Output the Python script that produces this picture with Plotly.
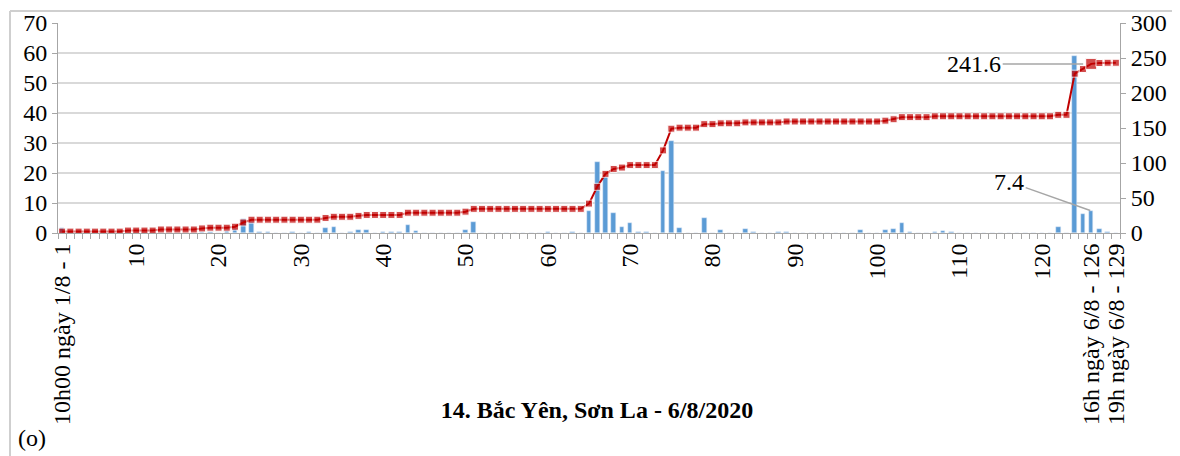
import plotly.graph_objects as go

# ---- data ----
categories = list(range(1, 130))

rain_values = {  # hourly rainfall (mm), left axis; others are 0
    1: 1.8, 18: 0.3, 19: 0.3, 21: 0.7, 22: 1.2, 23: 4.6, 24: 3.7, 25: 0.2, 26: 0.2,
    29: 0.3, 31: 0.2, 33: 1.6, 34: 2.1, 36: 0.3, 37: 0.9, 38: 1.0, 40: 0.4, 41: 0.2,
    42: 0.2, 43: 2.6, 44: 0.6, 50: 1.1, 51: 3.7, 60: 0.2, 63: 0.2, 65: 7.2, 66: 23.8,
    67: 18.6, 68: 6.8, 69: 2.0, 70: 3.2, 71: 0.2, 72: 0.2, 74: 20.8, 75: 30.7, 76: 1.7,
    79: 5.1, 81: 1.1, 84: 1.2, 85: 0.2, 88: 0.2, 89: 0.2, 98: 0.9, 101: 0.9, 102: 1.4,
    103: 3.3, 104: 0.3, 107: 0.2, 108: 0.6, 109: 0.2, 122: 2.1, 124: 58.9, 125: 6.4,
    126: 7.4, 127: 1.2, 128: 0.2,
}
rain = [rain_values.get(c, 0.0) for c in categories]

cumulative_steps = [  # (first category, last category, cumulative mm), right axis
    (1, 8, 2.0), (9, 12, 3.5), (13, 17, 5.0), (18, 18, 6.5), (19, 21, 7.6),
    (22, 22, 9.0), (23, 23, 15.0), (24, 32, 19.0), (33, 33, 21.5), (34, 36, 23.2),
    (37, 37, 24.5), (38, 42, 25.8), (43, 49, 29.0), (50, 50, 30.5), (51, 64, 34.5),
    (65, 65, 42.0), (66, 66, 66.0), (67, 67, 84.5), (68, 68, 91.5), (69, 69, 93.5),
    (70, 73, 97.0), (74, 74, 118.0), (75, 75, 149.0), (76, 78, 150.5), (79, 80, 155.5),
    (81, 83, 156.7), (84, 88, 158.0), (89, 100, 159.3), (101, 101, 160.5),
    (102, 102, 162.5), (103, 106, 165.5), (107, 121, 166.7), (122, 123, 168.8),
    (124, 124, 227.6), (125, 125, 234.2), (126, 126, 241.6), (127, 127, 242.8),
    (128, 129, 243.2),
]
cumulative = []
for a, b, v in cumulative_steps:
    cumulative += [v] * (b - a + 1)

tick_vals = [1, 10, 20, 30, 40, 50, 60, 70, 80, 90, 100, 110, 120, 126, 129]
tick_text = ["10h00 ngày 1/8 - 1", "10", "20", "30", "40", "50", "60", "70", "80",
             "90", "100", "110", "120", "16h ngày 6/8 - 126", "19h ngày 6/8 - 129"]

title_text = "14. Bắc Yên, Sơn La - 6/8/2020"
panel_label = "(o)"
peak_cat = 126
peak_total_label = "241.6"
peak_rain_label = "7.4"

# ---- figure ----
FONT = "Liberation Serif"
FS = 24
OFF = 8  # page body margin offset
W, H = 1180 - OFF, 456 - OFF
L, R, T = 58 - OFF, 60, 23 - OFF
ph = 210
B = H - T - ph
pw = W - L - R


def px(x):  # screenshot x -> paper
    return (x - OFF - L) / pw


def py(y):  # screenshot y -> paper
    return (T + ph - (y - OFF)) / ph


fig = go.Figure()
fig.add_trace(go.Bar(x=categories, y=rain, marker_color="#5B9BD5", width=0.55,
                     name="rain", yaxis="y"))
marker_sizes = [11 if c == peak_cat else 7 for c in categories]
fig.add_trace(go.Scatter(x=categories, y=cumulative, mode="lines+markers",
                         line=dict(color="#C00000", width=2),
                         marker=dict(symbol="square", size=marker_sizes, color="#C00000"),
                         name="cumulative", yaxis="y2"))

axis_col = "#A6A6A6"
tf = dict(family=FONT, size=FS, color="black")
fig.update_layout(
    width=W, height=H,
    margin=dict(l=L, r=R, t=T, b=B, autoexpand=False),
    paper_bgcolor="white", plot_bgcolor="white",
    showlegend=False,
    font=dict(family=FONT, size=FS, color="black"),
    bargap=0,
    xaxis=dict(range=[0.5, 129.5], tickmode="array", tickvals=tick_vals, ticktext=tick_text,
               tickangle=-90, ticks="", showgrid=False, zeroline=False, automargin=False,
               showline=True, linecolor=axis_col, linewidth=1, tickfont=tf,
               minor=dict(tickmode="linear", tick0=0.5, dtick=1, ticks="outside",
                          ticklen=5, tickcolor=axis_col, showgrid=False)),
    yaxis=dict(range=[0, 70], dtick=10, showgrid=True, gridcolor="#D9D9D9", gridwidth=1.5,
               zeroline=False, showline=True, linecolor=axis_col, ticks="outside",
               automargin=False, ticklen=5, tickcolor=axis_col, tickfont=tf),
    yaxis2=dict(range=[0, 300], dtick=50, overlaying="y", side="right", showgrid=False,
                zeroline=False, showline=True, linecolor=axis_col, ticks="outside",
                automargin=False, ticklen=5, tickcolor=axis_col, tickfont=tf),
    title=dict(text="<b>" + title_text + "</b>", x=(597 - OFF) / W, y=1 - (410 - OFF) / H,
               xanchor="center", yanchor="middle", font=dict(family=FONT, size=FS)),
)

fig.add_annotation(x=peak_cat, y=cumulative[peak_cat - 1], xref="x", yref="y2",
                   text=peak_total_label, showarrow=True, arrowhead=0, arrowwidth=1.5,
                   arrowcolor="#A6A6A6", ax=-117, ay=0, standoff=8, font=tf)
fig.add_annotation(x=peak_cat, y=rain[peak_cat - 1], xref="x", yref="y",
                   text=peak_rain_label, showarrow=True, arrowhead=0, arrowwidth=1.5,
                   arrowcolor="#A6A6A6", ax=-82, ay=-29, standoff=1, font=tf)
fig.add_annotation(x=px(32), y=py(438), xref="paper", yref="paper", text=panel_label,
                   xanchor="center", yanchor="middle", showarrow=False, font=tf)

# chart frame (light grey border)
frame = "#CFCFCF"
fig.add_shape(type="line", xref="paper", yref="paper", x0=px(10), x1=px(1180),
              y0=py(11), y1=py(11), line=dict(color=frame, width=2))
fig.add_shape(type="line", xref="paper", yref="paper", x0=px(10), x1=px(10),
              y0=py(11), y1=py(456), line=dict(color=frame, width=2))

fig.write_html("out.html")
